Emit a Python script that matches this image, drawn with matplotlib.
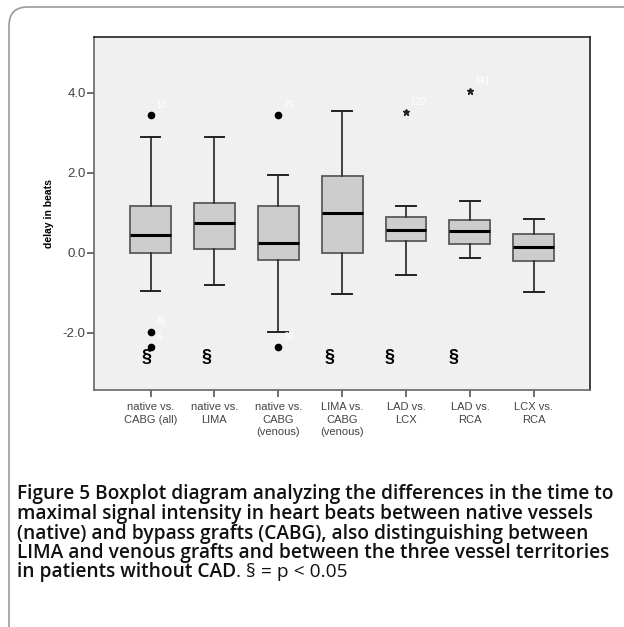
import matplotlib
matplotlib.use("Agg")
import matplotlib.pyplot as plt
from matplotlib.patches import FancyBboxPatch

# data (delay in beats)
groups = ["native vs.\nCABG (all)", "native vs.\nLIMA", "native vs.\nCABG\n(venous)",
          "LIMA vs.\nCABG\n(venous)", "LAD vs.\nLCX", "LAD vs.\nRCA", "LCX vs.\nRCA"]
whislo = [-0.96, -0.80, -1.99, -1.02, -0.55, -0.14, -0.98]
q1 = [0.00, 0.09, -0.18, 0.00, 0.30, 0.23, -0.20]
med = [0.45, 0.74, 0.24, 0.99, 0.56, 0.55, 0.14]
q3 = [1.18, 1.26, 1.18, 1.93, 0.90, 0.83, 0.48]
whishi = [2.89, 2.89, 1.95, 3.55, 1.18, 1.30, 0.84]

# outliers: (group index, value, case label)
circle_out = [(0, 3.44, "18"), (0, -1.99, "46"), (0, -2.35, "6"),
              (2, 3.44, "79"), (2, -2.35, "69")]
star_out = [(4, 3.52, "122"), (5, 4.06, "141")]

# significance marks
sig_groups = [0, 1, 3, 4, 5]
sig_shift = [-0.06, -0.13, -0.2, -0.25, -0.26]
sig_y = -2.62

fig = plt.figure(figsize=(6.24, 6.27), dpi=100)

# outer rounded frame
frame = FancyBboxPatch((9 / 624, -0.05), 1.2, 1.05 - 7 / 627,
                       boxstyle="round,pad=0,rounding_size=0.03",
                       transform=fig.transFigure, facecolor="none",
                       edgecolor="#9a9a9a", linewidth=1.2, clip_on=False)
fig.patches.append(frame)

ax = fig.add_axes([94 / 624, 1 - 390 / 627, 496 / 624, 353 / 627])
ax.set_facecolor("#f0f0f0")

stats = []
for i in range(len(groups)):
    stats.append(dict(whislo=whislo[i], q1=q1[i], med=med[i], q3=q3[i],
                      whishi=whishi[i], fliers=[]))
pos = list(range(1, len(groups) + 1))
ax.bxp(stats, positions=pos, widths=0.64, patch_artist=True, showfliers=False,
       boxprops=dict(facecolor="#cdcdcd", edgecolor="#5a5a5a", linewidth=1.3),
       medianprops=dict(color="black", linewidth=2.2),
       whiskerprops=dict(color="#333333", linewidth=1.3),
       capprops=dict(color="#222222", linewidth=1.4),
       capwidths=0.31)

for g, v, lab in circle_out:
    ax.plot(pos[g], v, "o", color="black", markersize=4.5)
    ax.annotate(lab, (pos[g], v), xytext=(4, 5), textcoords="offset points",
                color="white", fontsize=7, family="Liberation Sans")
for g, v, lab in star_out:
    ax.plot(pos[g], v, "*", color="#222222", markersize=5)
    ax.annotate(lab, (pos[g], v), xytext=(3, 5), textcoords="offset points",
                color="white", fontsize=7, family="Liberation Sans")

for g, s in zip(sig_groups, sig_shift):
    ax.text(pos[g] + s, sig_y, "§", ha="center", va="center", fontsize=13,
            fontweight="bold", family="Liberation Sans")

ax.set_xlim(0.115, 7.88)
ax.set_ylim(-3.43, 5.4)
ax.set_yticks([-2, 0, 2, 4])
ax.set_yticklabels(["-2.0", "0.0", "2.0", "4.0"])
ax.set_xticks(pos)
ax.set_xticklabels(groups, linespacing=1.3)
ax.tick_params(colors="#555555", length=5, width=1.2, labelcolor="#444444")
ax.tick_params(axis="x", labelsize=8, pad=4)
ax.tick_params(axis="y", labelsize=9.5, pad=1)
for lab in ax.get_xticklabels() + ax.get_yticklabels():
    lab.set_family("Liberation Sans")
for s in ["top", "right"]:
    ax.spines[s].set_color("#222222")
for s in ["left", "bottom"]:
    ax.spines[s].set_color("#666666")
for s in ax.spines.values():
    s.set_linewidth(1.2)
ax.set_ylabel("delay in beats", fontsize=7.5, fontweight="bold",
              family="Liberation Sans", labelpad=6)

# caption
cap_lines = ["Figure 5 Boxplot diagram analyzing the differences in the time to",
             "maximal signal intensity in heart beats between native vessels",
             "(native) and bypass grafts (CABG), also distinguishing between",
             "LIMA and venous grafts and between the three vessel territories",
             "in patients without CAD"]
x0 = 17 / 624
ys = [499, 519, 539, 558, 577]
renderer = fig.canvas.get_renderer()
probe = fig.text(0, 0, cap_lines[0], fontsize=12, fontweight="semibold", family="Open Sans")
w = probe.get_window_extent(renderer).width
probe.remove()
cap_size = 12 * 595 / w
for line, y in zip(cap_lines, ys):
    t = fig.text(x0, 1 - y / 627, line, fontsize=cap_size, fontweight="semibold",
                 family="Open Sans", va="baseline", color="#111111")
bb = t.get_window_extent(renderer)
fig.text(bb.x1 / 624, 1 - ys[-1] / 627, ". § = p < 0.05", fontsize=cap_size,
         family="Open Sans", va="baseline", color="#111111")

fig.savefig("out.png", dpi=100)
